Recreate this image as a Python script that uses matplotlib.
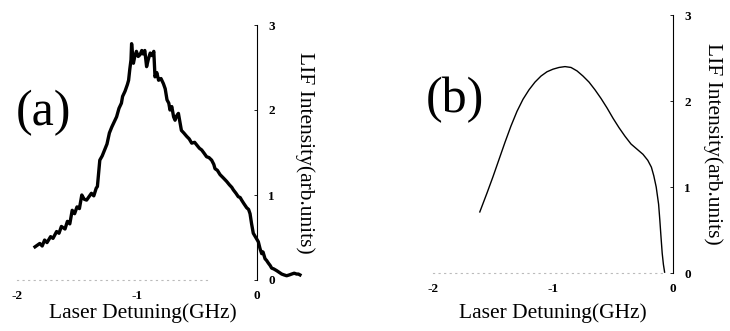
import matplotlib
matplotlib.use('Agg')
import matplotlib.pyplot as plt

plt.rcParams['font.family'] = ['Liberation Serif', 'DejaVu Serif']

# (a) 实验测得的LIF谱
det_a = [-1.85, -1.83, -1.81, -1.79, -1.77, -1.75, -1.72, -1.70, -1.67, -1.65, -1.63, -1.60,
         -1.58, -1.56, -1.54, -1.52, -1.50, -1.48, -1.46, -1.44, -1.42, -1.40, -1.38, -1.36,
         -1.34, -1.33, -1.31, -1.29, -1.27, -1.25, -1.23, -1.21, -1.19, -1.17, -1.15, -1.13,
         -1.12, -1.10, -1.08, -1.07, -1.06, -1.05, -1.045, -1.03, -1.02, -1.005, -0.99, -0.975,
         -0.96, -0.95, -0.935, -0.92, -0.905, -0.89, -0.875, -0.86, -0.85, -0.835, -0.82, -0.80,
         -0.78, -0.765, -0.75, -0.735, -0.725, -0.71, -0.695, -0.683, -0.67, -0.655, -0.64,
         -0.63, -0.61, -0.586, -0.565, -0.544, -0.52, -0.503, -0.48, -0.461, -0.44, -0.42,
         -0.40, -0.378, -0.36, -0.35, -0.33, -0.308, -0.28, -0.253, -0.23, -0.21, -0.197,
         -0.175, -0.156, -0.14, -0.128, -0.11, -0.086, -0.07, -0.058, -0.045, -0.031, -0.01,
         0.011, 0.025, 0.039, 0.05, 0.067, 0.08, 0.094, 0.11, 0.122, 0.14, 0.164, 0.185,
         0.206, 0.225, 0.247, 0.27, 0.289, 0.31, 0.33, 0.345, 0.358]
lif_a = [0.39, 0.41, 0.43, 0.40, 0.47, 0.44, 0.51, 0.49, 0.57, 0.55, 0.63, 0.60,
         0.69, 0.66, 0.82, 0.78, 0.86, 0.84, 1.00, 0.95, 0.94, 0.98, 1.02, 0.99,
         1.08, 1.10, 1.41, 1.46, 1.53, 1.60, 1.73, 1.80, 1.86, 1.92, 2.02, 2.08,
         2.16, 2.22, 2.30, 2.35, 2.48, 2.59, 2.78, 2.55, 2.62, 2.69, 2.63, 2.65,
         2.70, 2.66, 2.70, 2.51, 2.60, 2.67, 2.64, 2.69, 2.39, 2.44, 2.35, 2.37,
         2.31, 2.25, 2.12, 2.08, 2.00, 2.04, 1.92, 1.88, 1.93, 1.96, 1.84,
         1.76, 1.73, 1.69, 1.66, 1.61, 1.62, 1.59, 1.55, 1.53, 1.49, 1.45,
         1.44, 1.41, 1.36, 1.31, 1.29, 1.24, 1.20, 1.16, 1.12, 1.09, 1.06,
         1.02, 0.98, 0.97, 0.94, 0.90, 0.85, 0.83, 0.78, 0.66, 0.55, 0.50,
         0.45, 0.37, 0.31, 0.33, 0.25, 0.23, 0.20, 0.17, 0.14, 0.13, 0.11, 0.09,
         0.07, 0.06, 0.05, 0.06, 0.07, 0.08, 0.07, 0.07, 0.06]

# (b) 理论计算曲线
det_b = [-1.61, -1.55, -1.50, -1.45, -1.40, -1.35, -1.30, -1.25, -1.20, -1.15, -1.10,
         -1.05, -1.00, -0.95, -0.90, -0.85, -0.80, -0.75, -0.70, -0.65, -0.60, -0.55,
         -0.50, -0.45, -0.40, -0.35, -0.30, -0.25, -0.21, -0.18, -0.16, -0.14, -0.12,
         -0.11, -0.10, -0.09, -0.08, -0.07]
lif_b = [0.71, 0.93, 1.12, 1.32, 1.52, 1.71, 1.88, 2.02, 2.13, 2.22, 2.29,
         2.34, 2.37, 2.39, 2.40, 2.39, 2.35, 2.29, 2.22, 2.13, 2.03, 1.92,
         1.80, 1.69, 1.59, 1.50, 1.44, 1.38, 1.31, 1.23, 1.13, 1.00, 0.80,
         0.62, 0.42, 0.23, 0.10, 0.01]

W, H = 730, 331
fig = plt.figure(figsize=(W / 100, H / 100), dpi=100)

panels = [
    # 数据, 线宽, 面板标签, 轴像素位置, x轴虚线终点, 标签位置
    (det_a, lif_a, 2.4, '(a)', (5, 280, 25), -0.4, (0.13, 0.655), 1.0, -0.13, 0.46),
    (det_b, lif_b, 1.0, '(b)', (421, 273, 15), -0.07, (0.113, 0.67), 0.973, -0.155, 0.44),
]

for det, lif, lw, tag, (x0, ybot, ytop), xend, tagpos, ylx, xly, xlx in panels:
    ax = fig.add_axes([x0 / W, (H - ybot) / H, 300 / W, (ybot - ytop) / H])
    ax.plot(det, lif, color='black', lw=lw, solid_joinstyle='round')
    ax.set_xlim(-2.1, 0.4)
    ax.set_ylim(0, 3)

    ax.spines['left'].set_visible(False)
    ax.spines['top'].set_visible(False)
    ax.spines['right'].set_position(('data', 0))
    ax.spines['right'].set_linewidth(0.8)
    ax.spines['bottom'].set_linestyle((0, (1, 4)))
    ax.spines['bottom'].set_color('#bbbbbb')
    ax.spines['bottom'].set_linewidth(0.8)
    ax.spines['bottom'].set_bounds(-2, xend)

    ax.yaxis.tick_right()
    ax.set_yticks([0, 1, 2, 3])
    ax.tick_params(axis='y', direction='in', length=2, width=0.6, pad=8, labelsize=9.5)
    ax.set_xticks([-2, -1, 0])
    ax.set_xticklabels(['-2', '-1', '0'])
    ax.tick_params(axis='x', length=0, pad=7, labelsize=9.5)
    for lab in ax.get_xticklabels() + ax.get_yticklabels():
        lab.set_fontweight('bold')

    ax.text(xlx, xly, 'Laser Detuning(GHz)', transform=ax.transAxes,
            ha='center', va='center', fontsize=15.5)
    ax.text(ylx, 0.5, 'LIF Intensity(arb.units)', transform=ax.transAxes,
            ha='center', va='center', rotation=-90, fontsize=15.5)
    ax.text(tagpos[0], tagpos[1], tag, transform=ax.transAxes,
            ha='center', va='center', fontsize=36)

fig.savefig('out.png', dpi=100)
